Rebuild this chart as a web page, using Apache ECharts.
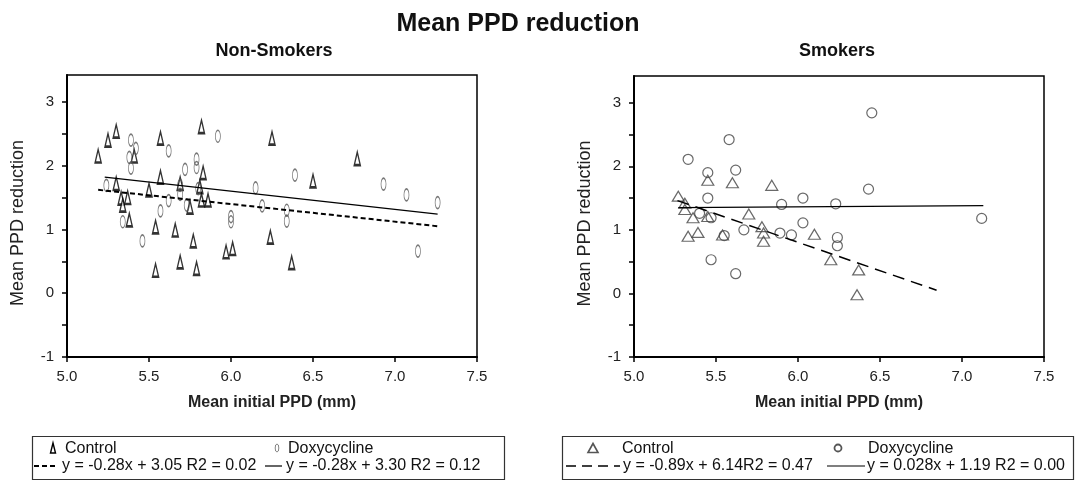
<!DOCTYPE html>
<html>
<head>
<meta charset="utf-8">
<script src="https://cdn.jsdelivr.net/npm/echarts@6/dist/echarts.min.js"></script>
<style>
html,body{margin:0;padding:0;background:#fff;}
#chart{width:1076px;height:481px;}
</style>
</head>
<body>
<div id="chart"></div>
<script>
// ---------- data ----------
var xTickLabels = [5.0, 5.5, 6.0, 6.5, 7.0, 7.5];
var yTickLabels = [-1, 0, 1, 2, 3];
var yMinorTicks = [-1, -0.5, 0, 0.5, 1, 1.5, 2, 2.5, 3];

// Non-smokers
var nsControl = [
  [5.19,2.15],[5.25,2.40],[5.30,2.54],[5.30,1.72],[5.33,1.49],[5.34,1.38],[5.37,1.50],[5.38,1.15],
  [5.41,2.15],[5.50,1.62],[5.54,1.04],[5.54,0.36],[5.57,2.43],[5.57,1.82],[5.66,0.99],[5.69,0.49],
  [5.69,1.72],[5.75,1.35],[5.77,0.82],[5.79,0.39],[5.81,1.67],[5.82,2.61],[5.82,1.46],[5.83,1.89],
  [5.86,1.46],[5.97,0.65],[6.01,0.70],[6.24,0.88],[6.25,2.43],[6.37,0.48],[6.50,1.76],[6.77,2.11]
];
var nsDoxy = [
  [5.24,1.69],[5.34,1.12],[5.38,2.13],[5.39,2.40],[5.39,1.96],[5.42,2.27],[5.46,0.82],[5.57,1.29],
  [5.62,2.23],[5.62,1.45],[5.69,1.69],[5.69,1.55],[5.72,1.94],[5.73,1.38],[5.79,2.10],[5.79,1.97],
  [5.80,1.64],[5.92,2.46],[6.00,1.20],[6.00,1.12],[6.15,1.65],[6.19,1.37],[6.34,1.30],[6.34,1.13],
  [6.39,1.85],[6.93,1.71],[7.07,1.54],[7.14,0.66],[7.26,1.42]
];
var nsControlFit = [[5.19,1.62],[7.26,1.05]];
var nsDoxyFit = [[5.23,1.82],[7.26,1.24]];

// Smokers
var smControl = [
  [5.27,1.53],[5.31,1.42],[5.31,1.32],[5.33,0.90],[5.36,1.19],[5.39,0.96],[5.45,1.78],[5.45,1.21],
  [5.54,0.92],[5.60,1.74],[5.70,1.25],[5.78,1.05],[5.79,0.95],[5.79,0.82],[5.84,1.70],[6.10,0.93],
  [6.20,0.53],[6.37,0.37],[6.36,-0.02]
];
var smDoxy = [
  [5.33,2.11],[5.40,1.26],[5.45,1.90],[5.45,1.50],[5.47,0.53],[5.47,1.19],[5.55,0.91],[5.58,2.42],
  [5.62,1.94],[5.62,0.31],[5.67,1.00],[5.89,0.95],[5.90,1.40],[5.96,0.92],[6.03,1.11],[6.03,1.50],
  [6.23,1.41],[6.24,0.75],[6.24,0.88],[6.43,1.64],[6.45,2.84],[7.12,1.18]
];
var smControlFit = [[5.265,1.46],[6.845,0.05]];
var smDoxyFit = [[5.27,1.35],[7.13,1.38]];

var titleText = 'Mean PPD reduction';
var panelTitles = ['Non-Smokers', 'Smokers'];
var xName = 'Mean initial PPD (mm)';
var yName = 'Mean PPD reduction';
var legendLabels = ['Control', 'Doxycycline'];
var nsEquations = ['y = -0.28x + 3.05 R2 = 0.02', 'y = -0.28x + 3.30 R2 = 0.12'];
var smEquations = ['y = -0.89x + 6.14R2 = 0.47', 'y = 0.028x + 1.19 R2 = 0.00'];

// ---------- chart ----------
var FONT = 'Liberation Sans, Arial, Helvetica, sans-serif';
var TRI_NARROW = 'path://M2,0 L4,12 L0,12 Z';
var ELLIPSE = 'path://M0,10 A5,10 0 1 1 10,10 A5,10 0 1 1 0,10 Z';

function xAxisCfg(gi){
  return {
    gridIndex: gi, type: 'value', min: 5, max: 7.5, interval: 0.5,
    axisLine: {show: true, onZero: false, lineStyle: {color: '#000', width: 2}},
    axisTick: {show: true, length: 5, lineStyle: {color: '#000', width: 1.5}},
    axisLabel: {fontSize: 15, color: '#222', fontFamily: FONT, margin: 12,
      customValues: xTickLabels,
      formatter: function(v){ return Number(v).toFixed(1); }},
    splitLine: {show: false},
    name: xName, nameLocation: 'middle', nameGap: 38,
    nameTextStyle: {fontSize: 16, fontWeight: 'bold', color: '#222', fontFamily: FONT}
  };
}
function yAxisCfg(gi){
  return {
    gridIndex: gi, type: 'value', min: -1, max: 3.42,
    axisLine: {show: true, onZero: false, lineStyle: {color: '#000', width: 2}},
    axisTick: {show: true, length: 5, lineStyle: {color: '#000', width: 1.5}, customValues: yMinorTicks},
    axisLabel: {fontSize: 15, color: '#222', fontFamily: FONT, margin: 13, customValues: yTickLabels},
    splitLine: {show: false},
    name: yName, nameLocation: 'middle', nameGap: 40,
    nameTextStyle: {fontSize: 18, color: '#222', fontFamily: FONT, padding: [0, 14, 0, 0]}
  };
}
function fitLine(data, xi, dash, width){
  return {
    type: 'line', xAxisIndex: xi, yAxisIndex: xi, data: data,
    showSymbol: false, symbol: 'none', silent: true, animation: false,
    lineStyle: {color: '#000', width: width, type: dash}
  };
}

var chart = echarts.init(document.getElementById('chart'), null, {renderer: 'canvas'});

var legendY1 = 449, legendY2 = 466;
function txt(x, y, s){
  return {type: 'text', silent: true, x: x, y: y,
    style: {text: s, fill: '#111', font: '16px ' + FONT, verticalAlign: 'middle', align: 'left'}};
}

var option = {
  backgroundColor: '#fff',
  animation: false,
  textStyle: {fontFamily: FONT},
  title: [
    {text: titleText, left: 513, top: 7, textAlign: 'center',
      textStyle: {fontSize: 25, fontWeight: 'bold', color: '#111', fontFamily: FONT}},
    {text: panelTitles[0], left: 269, top: 37, textAlign: 'center',
      textStyle: {fontSize: 18, fontWeight: 'bold', color: '#111', fontFamily: FONT}},
    {text: panelTitles[1], left: 832, top: 37, textAlign: 'center',
      textStyle: {fontSize: 18, fontWeight: 'bold', color: '#111', fontFamily: FONT}}
  ],
  grid: [
    {left: 67, right: 599, top: 75, bottom: 124, show: true, borderColor: '#000', borderWidth: 1.5},
    {left: 634, right: 32, top: 76, bottom: 124, show: true, borderColor: '#000', borderWidth: 1.5}
  ],
  xAxis: [xAxisCfg(0), xAxisCfg(1)],
  yAxis: [yAxisCfg(0), yAxisCfg(1)],
  series: [
    {type: 'scatter', name: 'Control NS', xAxisIndex: 0, yAxisIndex: 0, data: nsControl,
      symbol: TRI_NARROW, symbolSize: [6, 13],
      itemStyle: {color: '#fff', borderColor: '#000', borderWidth: 1.8}},
    {type: 'scatter', name: 'Doxy NS', xAxisIndex: 0, yAxisIndex: 0, data: nsDoxy,
      symbol: ELLIPSE, symbolSize: [5, 12],
      itemStyle: {color: 'rgba(255,255,255,0)', borderColor: '#555', borderWidth: 1.1}},
    fitLine(nsControlFit, 0, [5, 3], 2),
    fitLine(nsDoxyFit, 0, 'solid', 1.2),
    {type: 'scatter', name: 'Control S', xAxisIndex: 1, yAxisIndex: 1, data: smControl,
      symbol: 'triangle', symbolSize: [12, 10],
      itemStyle: {color: 'rgba(255,255,255,0)', borderColor: '#444', borderWidth: 1.2}},
    {type: 'scatter', name: 'Doxy S', xAxisIndex: 1, yAxisIndex: 1, data: smDoxy,
      symbol: 'circle', symbolSize: 10,
      itemStyle: {color: 'rgba(255,255,255,0)', borderColor: '#444', borderWidth: 1.2}},
    fitLine(smControlFit, 1, [12, 7], 1.5),
    fitLine(smDoxyFit, 1, 'solid', 1.2)
  ],
  graphic: [
    // left legend box
    {type: 'rect', shape: {x: 32.5, y: 436.5, width: 472, height: 43}, silent: true,
      style: {fill: 'none', stroke: '#333', lineWidth: 1.2}},
    {type: 'polygon', silent: true, shape: {points: [[53,443],[55.5,453],[50.5,453]]},
      style: {fill: '#fff', stroke: '#000', lineWidth: 1.4}},
    txt(65, legendY1, legendLabels[0]),
    {type: 'circle', silent: true, x: 277, y: 448, scaleX: 0.45, shape: {cx: 0, cy: 0, r: 4},
      style: {fill: 'none', stroke: '#555', lineWidth: 1, strokeNoScale: true}},
    txt(288, legendY1, legendLabels[1]),
    {type: 'line', silent: true, shape: {x1: 34, y1: 466, x2: 58, y2: 466},
      style: {stroke: '#000', lineWidth: 2, lineDash: [5, 3]}},
    txt(62, legendY2, nsEquations[0]),
    {type: 'line', silent: true, shape: {x1: 265, y1: 466, x2: 282, y2: 466},
      style: {stroke: '#000', lineWidth: 1.2}},
    txt(286, legendY2, nsEquations[1]),
    // right legend box
    {type: 'rect', shape: {x: 562.5, y: 436.5, width: 511, height: 43}, silent: true,
      style: {fill: 'none', stroke: '#333', lineWidth: 1.2}},
    {type: 'polygon', silent: true, shape: {points: [[593,443.5],[598,452.5],[588,452.5]]},
      style: {fill: 'none', stroke: '#555', lineWidth: 1.6}},
    txt(622, legendY1, legendLabels[0]),
    {type: 'circle', silent: true, shape: {cx: 838, cy: 448, r: 3.5},
      style: {fill: 'none', stroke: '#555', lineWidth: 1.8}},
    txt(868, legendY1, legendLabels[1]),
    {type: 'line', silent: true, shape: {x1: 566, y1: 466, x2: 620, y2: 466},
      style: {stroke: '#000', lineWidth: 1.6, lineDash: [10, 6]}},
    txt(623, legendY2, smEquations[0]),
    {type: 'line', silent: true, shape: {x1: 827, y1: 466, x2: 865, y2: 466},
      style: {stroke: '#000', lineWidth: 1.2}},
    txt(867, legendY2, smEquations[1])
  ]
};
chart.setOption(option);
</script>
</body>
</html>
